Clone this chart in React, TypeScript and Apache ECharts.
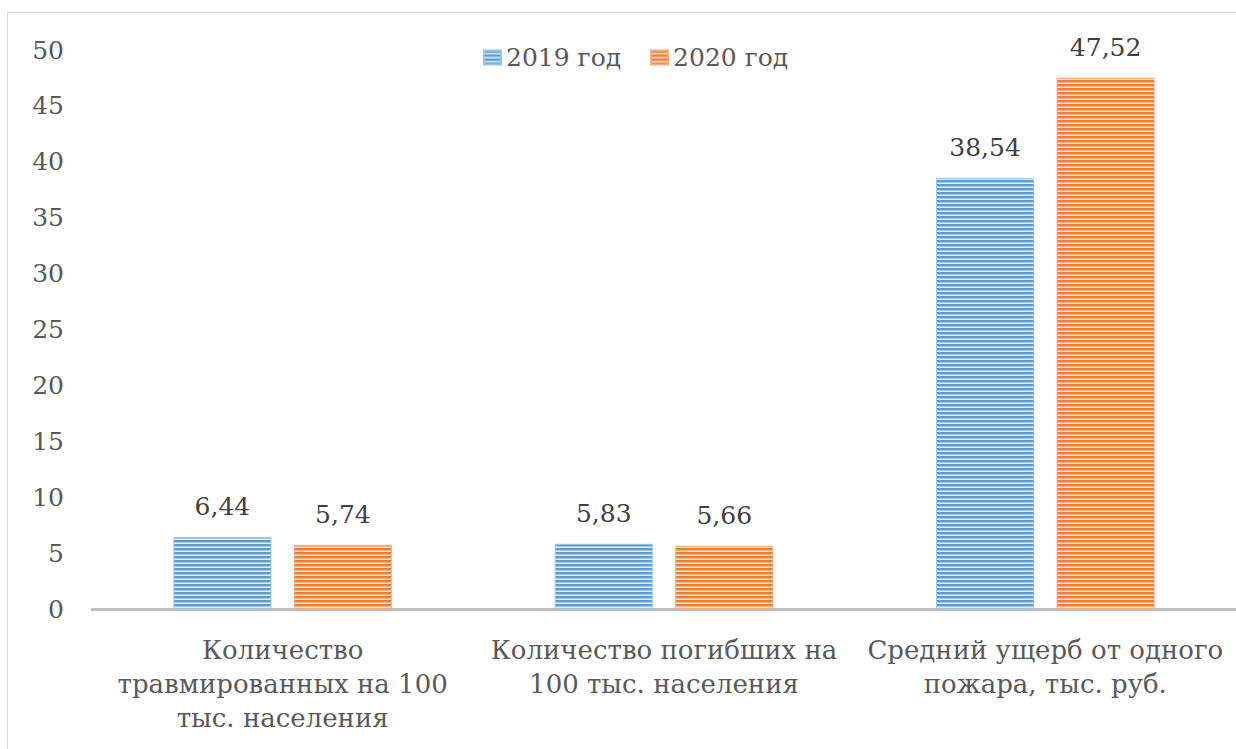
import React, { useEffect, useRef } from "react";
import * as echarts from "echarts";

const categories = [
  "Количество\nтравмированных на 100\nтыс. населения",
  "Количество погибших на\n100 тыс. населения",
  "Средний ущерб от одного\nпожара, тыс. руб.",
];
const seriesNames = ["2019 год", "2020 год"];
const values2019 = [6.44, 5.83, 38.54];
const values2020 = [5.74, 5.66, 47.52];

function stripe(dark: string, mid: string, light: string) {
  const c = document.createElement("canvas");
  c.width = 4;
  c.height = 4;
  const ctx = c.getContext("2d")!;
  ctx.fillStyle = dark;
  ctx.fillRect(0, 0, 4, 2);
  ctx.fillStyle = mid;
  ctx.fillRect(0, 2, 4, 1);
  ctx.fillStyle = light;
  ctx.fillRect(0, 3, 4, 1);
  return { image: c, repeat: "repeat" as const };
}

export default function App() {
  const ref = useRef<HTMLDivElement>(null);
  useEffect(() => {
    const chart = echarts.init(ref.current!, null, { renderer: "svg" });
    const blue = stripe("#5b9bd5", "#a9c9ea", "#e3eef9");
    const orange = stripe("#ed7d31", "#f5b48a", "#fbe3d4");
    const font = "DejaVu Serif";
    const labelCfg = {
      show: true,
      position: "top" as const,
      distance: 18,
      color: "#404040",
      fontSize: 25,
      fontFamily: font,
      formatter: (p: any) => String(p.value).replace(".", ","),
    };
    chart.setOption({
      animation: false,
      textStyle: { fontFamily: font },
      graphic: [
        {
          type: "rect",
          shape: { x: 7.5, y: 12.5, width: 1240, height: 750 },
          style: { fill: "none", stroke: "#d9d9d9", lineWidth: 1 },
          silent: true,
          z: -1,
        },
      ],
      legend: {
        data: seriesNames,
        top: 40,
        left: 478,
        itemWidth: 17,
        itemHeight: 14,
        itemGap: 29,
        icon: "rect",
        textStyle: { fontSize: 25, color: "#595959", fontFamily: font },
      },
      grid: { left: 92, right: -2, top: 50, bottom: 140 },
      xAxis: {
        type: "category",
        data: categories,
        axisLine: { lineStyle: { color: "#bfbfbf", width: 3 } },
        axisTick: { show: false },
        axisLabel: {
          interval: 0,
          color: "#595959",
          fontSize: 26,
          fontFamily: font,
          lineHeight: 34,
          margin: 24,
        },
      },
      yAxis: {
        type: "value",
        min: 0,
        max: 50,
        interval: 5,
        splitLine: { show: false },
        axisLine: { show: false },
        axisTick: { show: false },
        axisLabel: {
          color: "#595959",
          fontSize: 25,
          fontFamily: font,
          margin: 28,
        },
      },
      series: [
        {
          name: seriesNames[0],
          type: "bar",
          data: values2019,
          barWidth: "25.7%",
          barGap: "23%",
          itemStyle: { color: blue, borderColor: "#9cc3e8", borderWidth: 1 },
          label: labelCfg,
        },
        {
          name: seriesNames[1],
          type: "bar",
          data: values2020,
          barWidth: "25.7%",
          itemStyle: { color: orange, borderColor: "#f4ac7c", borderWidth: 1 },
          label: labelCfg,
        },
      ],
    });
    return () => chart.dispose();
  }, []);
  return (
    <div
      ref={ref}
      style={{ position: "absolute", left: 0, top: 0, width: 1236, height: 749 }}
    />
  );
}
